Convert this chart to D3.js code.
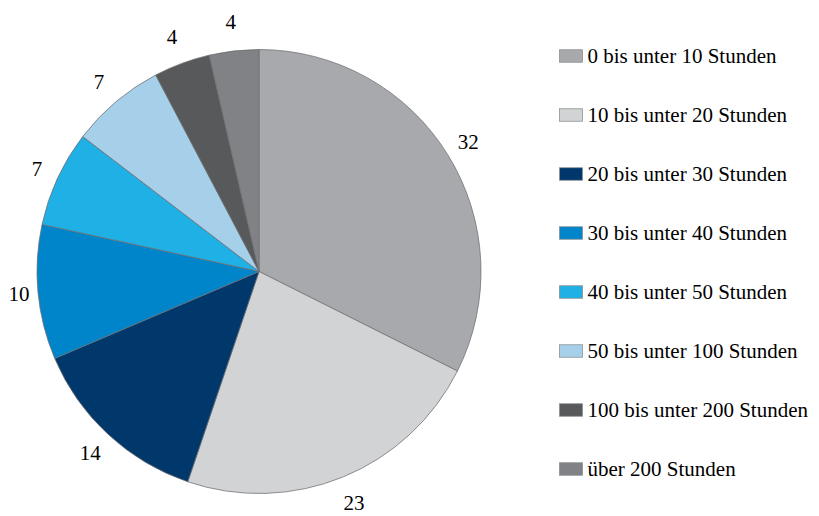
<!DOCTYPE html>
<html><head><meta charset="utf-8">
<script src="https://cdn.jsdelivr.net/npm/d3@7"></script>
<style>body{margin:0;background:#fff}svg{display:block}text{font-family:"Liberation Serif","Times New Roman","DejaVu Serif",serif}</style>
</head><body>
<svg id="c" width="819" height="516"></svg>
<script>
const categories = ["0 bis unter 10 Stunden","10 bis unter 20 Stunden","20 bis unter 30 Stunden","30 bis unter 40 Stunden","40 bis unter 50 Stunden","50 bis unter 100 Stunden","100 bis unter 200 Stunden","über 200 Stunden"];
const values = [32.4, 22.8, 13.4, 9.8, 7.0, 6.9, 4.1, 3.6];
const labels = ["32","23","14","10","7","7","4","4"];
const colors = ["#a7a9ac","#d1d3d4","#00386b","#0085ca","#1fb0e6","#a6cfe9","#58595b","#808285"];

const svg = d3.select("#c");
const cx = 259, cy = 271.5, R = 222;
const pie = d3.pie().sort(null).value(d=>d)(values);
const arc = d3.arc().innerRadius(0).outerRadius(R);
const g = svg.append("g").attr("transform",`translate(${cx},${cy})`);
g.selectAll("path").data(pie).join("path")
  .attr("d",arc).attr("fill",(d,i)=>colors[i])
  .attr("stroke","#6d6e71").attr("stroke-width",0.75);
function lpos(d){
  const a = (d.startAngle+d.endAngle)/2;
  const r = 240 + 11*Math.abs(Math.cos(a));
  return [r*Math.sin(a), -r*Math.cos(a)];
}
g.selectAll("text").data(pie).join("text")
  .attr("x",d=>lpos(d)[0]).attr("y",d=>lpos(d)[1])
  .attr("text-anchor","middle").attr("dominant-baseline","central")
  .attr("font-size",21).attr("fill","#000")
  .text((d,i)=>labels[i]);

const y = d3.scalePoint().domain(categories).range([56,469]);
const lg = svg.append("g");
const items = lg.selectAll("g").data(categories).join("g")
  .attr("transform",d=>`translate(559.5,${y(d)})`);
items.append("rect").attr("x",0).attr("y",-6.25).attr("width",23).attr("height",12.5)
  .attr("fill",(d,i)=>colors[i]).attr("stroke","#8a8c8e").attr("stroke-width",0.75);
items.append("text").attr("x",28).attr("y",7)
  .attr("font-size",21).attr("fill","#000").text(d=>d);
</script>
</body></html>
